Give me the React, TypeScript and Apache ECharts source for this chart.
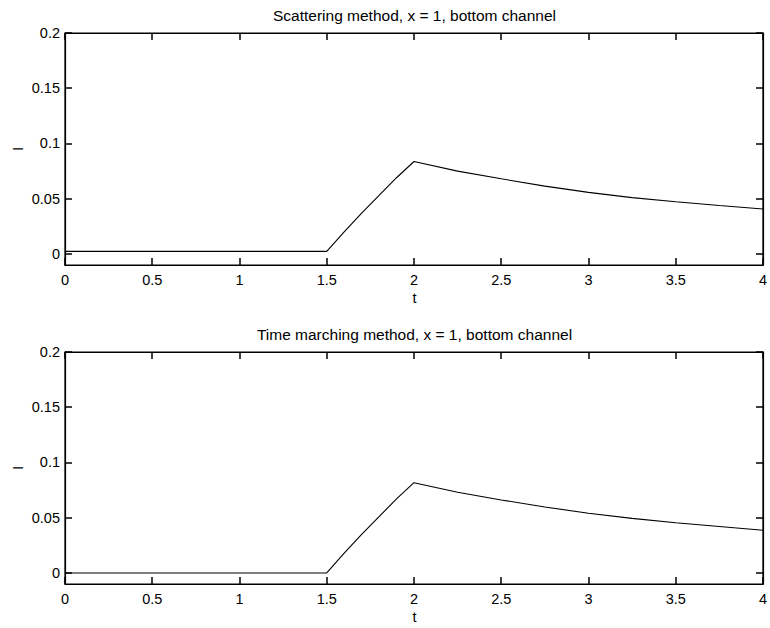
import React, { useEffect, useRef } from "react";
import * as echarts from "echarts";

const tValues = [0, 1.5, 1.6, 1.7, 1.8, 1.9, 2.0, 2.25, 2.5, 2.75, 3.0, 3.25, 3.5, 3.75, 4.0];
const scatteringI = [0.0023, 0.0023, 0.02, 0.037, 0.053, 0.069, 0.0837, 0.075, 0.068, 0.0614, 0.0557, 0.051, 0.0472, 0.0438, 0.0407];
const marchingI = [0, 0, 0.018, 0.035, 0.051, 0.067, 0.0817, 0.073, 0.0661, 0.0597, 0.0541, 0.0494, 0.0455, 0.042, 0.0386];

const xTicks = [0, 0.5, 1, 1.5, 2, 2.5, 3, 3.5, 4];
const yTicks = [0, 0.05, 0.1, 0.15, 0.2];

const titles = [
  "Scattering method, x = 1, bottom channel",
  "Time marching method, x = 1, bottom channel",
];
const xLabel = "t";
const yLabel = "I";

const FONT = "Liberation Sans, Arial, Helvetica, sans-serif";

export default function App() {
  const ref = useRef<HTMLDivElement>(null);
  useEffect(() => {
    if (!ref.current) return;
    const chart = echarts.init(ref.current, undefined, { renderer: "svg" });

    const grids = [
      { left: 65, top: 33, width: 699, height: 232 },
      { left: 65, top: 352, width: 699, height: 232 },
    ];

    const tickStyle = { color: "#000", width: 1.5 };
    const xAxes: any[] = [];
    const yAxes: any[] = [];
    grids.forEach((_, gi) => {
      const baseX = {
        type: "value",
        gridIndex: gi,
        min: 0,
        max: 4,
        interval: 0.5,
        splitLine: { show: false },
        axisLine: { show: true, onZero: false, lineStyle: { color: "#000", width: 1.2 } },
        axisTick: { show: true, inside: true, length: 7, lineStyle: tickStyle },
      };
      xAxes.push({
        ...baseX,
        position: "bottom",
        axisLabel: {
          show: true,
          color: "#000",
          fontFamily: FONT,
          fontSize: 14.5,
          margin: 7,
          customValues: xTicks,
          formatter: (v: number) => String(v),
        },
      });
      xAxes.push({ ...baseX, position: "top", axisLabel: { show: false } });

      const baseY = {
        type: "value",
        gridIndex: gi,
        min: -0.01,
        max: 0.2,
        splitLine: { show: false },
        axisLine: { show: true, onZero: false, lineStyle: { color: "#000", width: 1.2 } },
        axisTick: { show: true, inside: true, length: 7, customValues: yTicks, lineStyle: tickStyle },
      };
      yAxes.push({
        ...baseY,
        position: "left",
        axisLabel: {
          show: true,
          color: "#000",
          fontFamily: FONT,
          fontSize: 14.5,
          margin: 5,
          customValues: yTicks,
          formatter: (v: number) => String(Math.round(v * 100) / 100),
        },
      });
      yAxes.push({ ...baseY, position: "right", axisLabel: { show: false } });
    });

    const graphics: any[] = [];
    grids.forEach((g, gi) => {
      const cx = g.left + g.width / 2;
      graphics.push({
        type: "text",
        x: cx,
        y: g.top - 18,
        style: { text: titles[gi], font: `15.5px ${FONT}`, fill: "#000", align: "center", verticalAlign: "middle" },
      });
      graphics.push({
        type: "text",
        x: cx,
        y: g.top + g.height + 33,
        style: { text: xLabel, font: `14.5px ${FONT}`, fill: "#000", align: "center", verticalAlign: "middle" },
      });
      graphics.push({
        type: "text",
        x: 17,
        y: g.top + g.height / 2,
        rotation: Math.PI / 2,
        style: { text: yLabel, font: `15px ${FONT}`, fill: "#000", align: "center", verticalAlign: "middle" },
      });
    });

    chart.setOption({
      animation: false,
      backgroundColor: "#fff",
      grid: grids.map((g) => ({ ...g, show: true, borderColor: "#000", borderWidth: 1.2, backgroundColor: "transparent" })),
      xAxis: xAxes,
      yAxis: yAxes,
      graphic: graphics,
      series: [
        {
          type: "line",
          xAxisIndex: 0,
          yAxisIndex: 0,
          data: tValues.map((t, i) => [t, scatteringI[i]]),
          showSymbol: false,
          lineStyle: { color: "#000", width: 1.1 },
        },
        {
          type: "line",
          xAxisIndex: 2,
          yAxisIndex: 2,
          data: tValues.map((t, i) => [t, marchingI[i]]),
          showSymbol: false,
          lineStyle: { color: "#000", width: 1.1 },
        },
      ],
    });
    return () => chart.dispose();
  }, []);

  return (
    <div
      ref={ref}
      style={{ position: "fixed", left: 0, top: 0, width: 770, height: 628, background: "#fff" }}
    />
  );
}
